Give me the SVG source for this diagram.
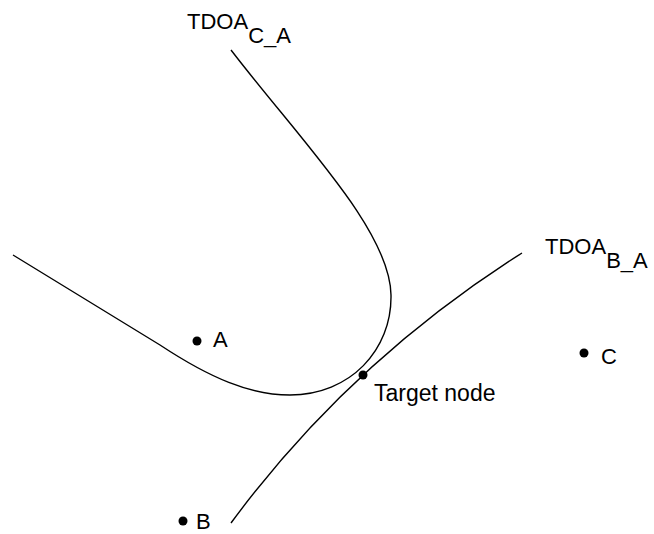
<svg xmlns="http://www.w3.org/2000/svg" width="654" height="534" viewBox="0 0 654 534">
<style>
.c{fill:none;stroke:#000;stroke-width:1.4}
.t{font-family:"Liberation Sans",Arial,sans-serif;font-size:22px;fill:#000}
</style>
<rect width="654" height="534" fill="#fff"/>
<g id="connectors">
<path class="c" d="M13,255 L160,345 C210,378 250,395 290,395 C350,395 392,350 391,295 C390,230 300,140 231,50"/>
<path class="c" d="M231,523 Q350,362 522,253"/>
</g>
<g id="nodeA"><circle cx="197" cy="341" r="4.5"/><text class="t" x="213" y="347">A</text></g>
<g id="nodeB"><circle cx="183" cy="521" r="4.5"/><text class="t" x="196" y="529">B</text></g>
<g id="nodeC"><circle cx="584" cy="353" r="4.5"/><text class="t" x="601" y="364">C</text></g>
<g id="target"><circle cx="363" cy="375" r="4.5"/><text class="t" x="374" y="401" style="font-size:23px">Target node</text></g>
<g id="labelCA"><text class="t" x="187" y="29">TDOA<tspan dy="14">C_A</tspan></text></g>
<g id="labelBA"><text class="t" x="545" y="254">TDOA<tspan dy="14">B_A</tspan></text></g>
</svg>
